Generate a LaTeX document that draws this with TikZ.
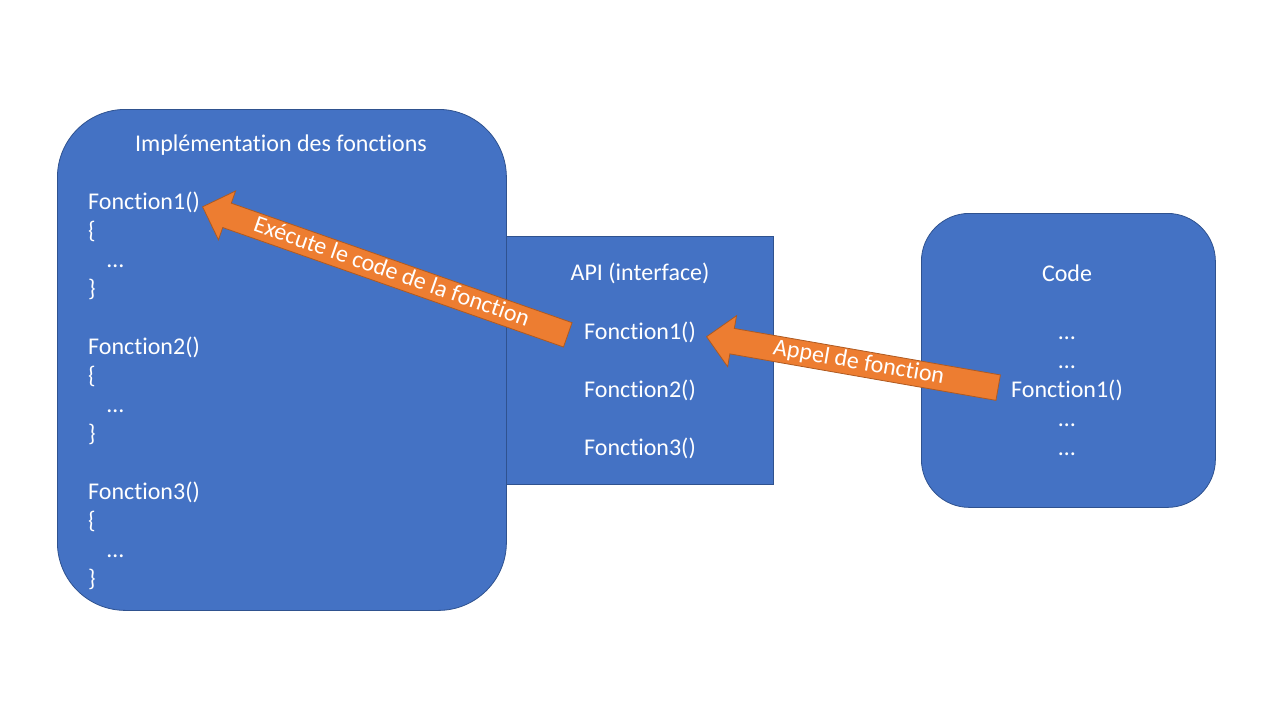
\documentclass[tikz,border=0pt]{standalone}
\usepackage{fontspec}
\setmainfont{Carlito}[Ligatures={NoCommon}]
\usetikzlibrary{shapes.arrows}
\definecolor{boxblue}{HTML}{4472C4}
\definecolor{boxedge}{HTML}{2F528F}
\definecolor{arrfill}{HTML}{ED7D31}
\definecolor{arredge}{HTML}{AE5A21}
\begin{document}
\begin{tikzpicture}[x=1pt,y=-1pt,
  panel/.style={rectangle,fill=boxblue,draw=boxedge,line width=0.8pt,anchor=north west,inner sep=0pt},
  txt/.style={text=white,font=\fontsize{24}{29}\selectfont,inner sep=0pt},
  lefttxt/.style={txt,anchor=base west},
  midtxt/.style={txt,anchor=base},
  blockarrow/.style={single arrow,fill=arrfill,draw=arredge,line width=0.8pt,
    shape border rotate=180,single arrow head extend=13pt,
    text height=17pt,text depth=5pt,inner ysep=1.5pt,inner xsep=0pt,
    anchor=tip,text=white,font=\fontsize{24}{29}\selectfont}]
\useasboundingbox (0,0) rectangle (1280,720);
% boxes
\node[panel,minimum width=267pt,minimum height=248pt] (api) at (506,236) {};
\node[panel,rounded corners=68pt,minimum width=449pt,minimum height=501pt] (impl) at (57,109) {};
\node[panel,rounded corners=48pt,minimum width=294pt,minimum height=294pt] (code) at (921,213) {};
% implementation texts
\node[midtxt] (implt) at (281,151) {Implémentation des fonctions};
\node[lefttxt] (f1) at (88,209) {Fonction1()};
\node[lefttxt] (f1a) at (88,238) {\{};
\node[lefttxt] (f1b) at (107,267) {…};
\node[lefttxt] (f1c) at (88,296) {\}};
\node[lefttxt] (f2) at (88,354) {Fonction2()};
\node[lefttxt] (f2a) at (88,383) {\{};
\node[lefttxt] (f2b) at (107,412) {…};
\node[lefttxt] (f2c) at (88,441) {\}};
\node[lefttxt] (f3) at (88,499) {Fonction3()};
\node[lefttxt] (f3a) at (88,528) {\{};
\node[lefttxt] (f3b) at (107,557) {…};
\node[lefttxt] (f3c) at (88,586) {\}};
% API texts
\node[midtxt] (apit) at (640,280) {API (interface)};
\node[midtxt] (a1) at (640,339) {Fonction1()};
\node[midtxt] (a2) at (640,397) {Fonction2()};
\node[midtxt] (a3) at (640,455) {Fonction3()};
% code texts
\node[midtxt] (codet) at (1067,281) {Code};
\node[midtxt] (c1) at (1067,339) {…};
\node[midtxt] (c2) at (1067,368) {…};
\node[midtxt] (c3) at (1067,397) {Fonction1()};
\node[midtxt] (c4) at (1067,426) {…};
\node[midtxt] (c5) at (1067,455) {…};
% block arrows
\node[blockarrow,rotate=-19.32,minimum height=387pt] (arr1) at ([xshift=2pt]f1.east |- f1.mid) {Exécute le code de la fonction};
\node[blockarrow,rotate=-9.91,minimum height=296pt] (arr2) at ([xshift=10pt]a1.east |- a1.mid) {Appel de fonction};
\end{tikzpicture}
\end{document}
